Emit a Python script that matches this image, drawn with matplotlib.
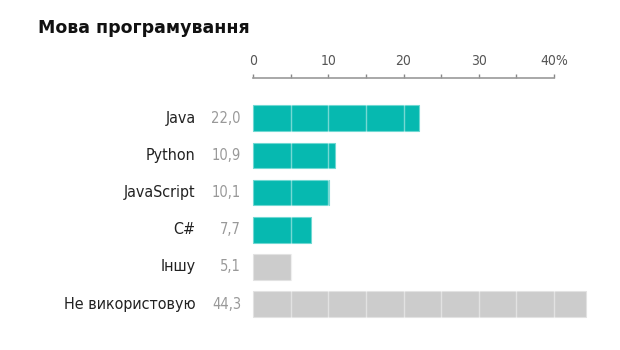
import matplotlib.pyplot as plt

LANGUAGES = ["Java", "Python", "JavaScript", "C#", "Іншу", "Не використовую"]
SHARES = [22.0, 10.9, 10.1, 7.7, 5.1, 44.3]
HIGHLIGHT = [True, True, True, True, False, False]
TICKS = [0, 10, 20, 30, 40]
TICK_LABELS = ["0", "10", "20", "30", "40%"]

TEAL = '#06b9b0'
TEAL_EDGE = '#6fd8d2'
GREY = '#cccccc'
GREY_EDGE = '#e2e2e2'

NARROW = dict(family='DejaVu Sans', fontstretch='condensed')


def fmt(v):
    return f"{v:.1f}".replace('.', ',')


fig = plt.figure(figsize=(6.2, 3.5), dpi=100)
ax = fig.add_axes([253 / 620, 1 - 322 / 350, 301 / 620, 244 / 350])

ys = list(range(len(LANGUAGES)))
colors = [TEAL if h else GREY for h in HIGHLIGHT]
edges = [TEAL_EDGE if h else GREY_EDGE for h in HIGHLIGHT]
ax.barh(ys, SHARES, height=0.69, color=colors, edgecolor=edges, linewidth=0.8,
        clip_on=False, zorder=2)

# faint separators every 5 points across the bars
for x in range(5, 50, 5):
    ax.axvline(x, color='white', lw=1, alpha=0.45, zorder=3, clip_on=False,
               ymin=0, ymax=0.99)

ax.set_xlim(0, 40)
ax.set_ylim(5.48, -1.08)

for y, name, v in zip(ys, LANGUAGES, SHARES):
    ax.text(-57 / 7.5, y, name, ha='right', va='center', fontsize=11.5,
            color='#222222', **NARROW)
    ax.text(-12 / 7.5, y, fmt(v), ha='right', va='center', fontsize=10.5,
            color='#999999', **NARROW)

ax.xaxis.set_ticks_position('top')
ax.set_xticks(TICKS)
ax.set_xticklabels(TICK_LABELS, fontsize=10, color='#555555', **NARROW)
ax.set_xticks(range(5, 40, 10), minor=True)
ax.tick_params(axis='x', which='both', direction='out', length=3, width=1,
               color='#888888', pad=4.5)
ax.set_yticks([])
for side in ['left', 'right', 'bottom']:
    ax.spines[side].set_visible(False)
ax.spines['top'].set_color('#999999')
ax.spines['top'].set_linewidth(1.2)

fig.text(38 / 620, 1 - 28 / 350, "Мова програмування", fontsize=12.5,
         fontweight='bold', va='center', ha='left', color='#111111')

fig.savefig('out.png', dpi=100)
